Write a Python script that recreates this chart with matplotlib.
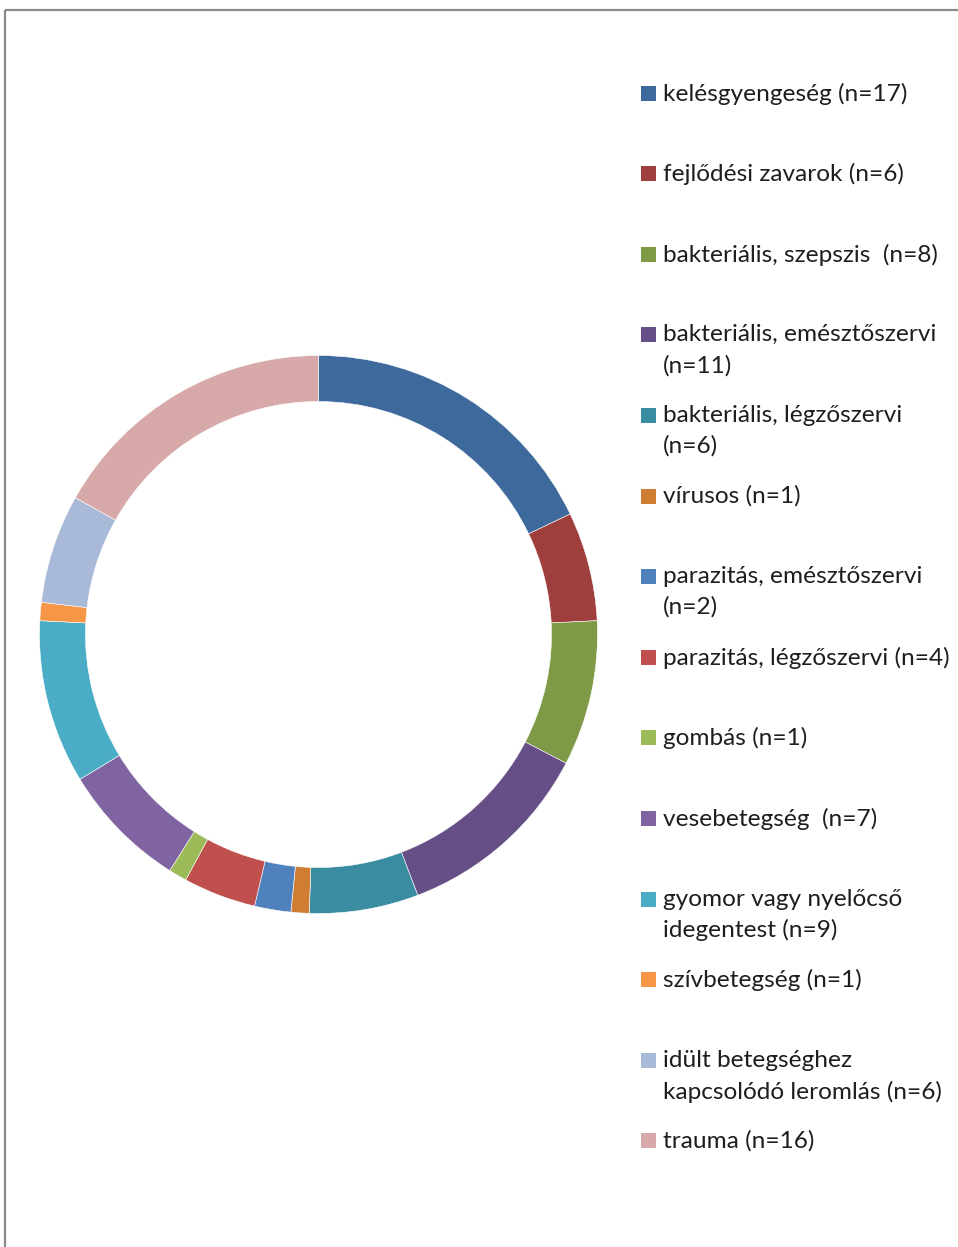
import matplotlib
matplotlib.use("Agg")
import matplotlib.pyplot as plt
from matplotlib.patches import Rectangle

# Data
labels = [
    "kelésgyengeség (n=17)",
    "fejlődési zavarok (n=6)",
    "bakteriális, szepszis  (n=8)",
    "bakteriális, emésztőszervi\n(n=11)",
    "bakteriális, légzőszervi\n(n=6)",
    "vírusos (n=1)",
    "parazitás, emésztőszervi\n(n=2)",
    "parazitás, légzőszervi (n=4)",
    "gombás (n=1)",
    "vesebetegség  (n=7)",
    "gyomor vagy nyelőcső\nidegentest (n=9)",
    "szívbetegség (n=1)",
    "idült betegséghez\nkapcsolódó leromlás (n=6)",
    "trauma (n=16)",
]
counts = [17, 6, 8, 11, 6, 1, 2, 4, 1, 7, 9, 1, 6, 16]
colors = ["#3E699C", "#9E3F3D", "#7E9A46", "#664F87", "#3A8CA1", "#D07D34",
          "#4F81BD", "#C0504D", "#9BBB59", "#8064A2", "#4BACC6", "#F79646",
          "#A9B9D8", "#D8A9A9"]

W, H = 958, 1247
fig = plt.figure(figsize=(W / 100, H / 100), dpi=100)
fig.patch.set_facecolor("white")

# donut
cx, cy, r_out, r_in = 318.5, 634.5, 279, 233
ax = fig.add_axes([(cx - r_out) / W, (H - cy - r_out) / H, 2 * r_out / W, 2 * r_out / H])
ax.pie(counts, colors=colors, startangle=90, counterclock=False, radius=1,
       wedgeprops=dict(width=(r_out - r_in) / r_out, edgecolor="white", linewidth=0.4))
ax.set_xlim(-1, 1)
ax.set_ylim(-1, 1)
ax.set_aspect("equal")
ax.axis("off")

# overlay for legend + border, pixel coords (y down)
ov = fig.add_axes([0, 0, 1, 1])
ov.set_xlim(0, W)
ov.set_ylim(H, 0)
ov.axis("off")
ov.add_patch(Rectangle((5.5, 10), W + 20, H + 20, fill=False,
                       edgecolor="#8a8a8a", linewidth=1.6))

y0, step = 93, 80.6
for i, (lab, col) in enumerate(zip(labels, colors)):
    y = y0 + step * i
    ov.add_patch(Rectangle((641, y - 7.5), 15, 15, facecolor=col, edgecolor="none"))
    ov.text(663, y - 10.5, lab, fontsize=17.6, family="Lato", color="#1e1e1e",
            va="top", ha="left", linespacing=1.54)

fig.savefig("out.png", dpi=100, facecolor="white")
